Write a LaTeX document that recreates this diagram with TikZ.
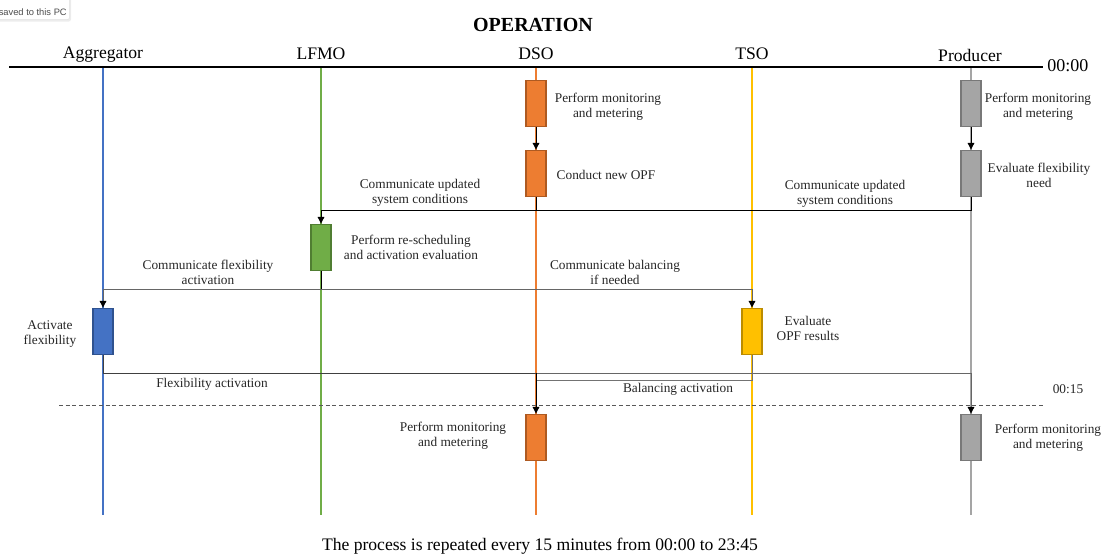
\documentclass[tikz,border=0pt]{standalone}
\usepackage{fontspec}
\setmainfont{Liberation Serif}
\newfontfamily\uifont{Liberation Sans}
\usetikzlibrary{arrows.meta,shadows}
\definecolor{cagg}{HTML}{4472C4}
\definecolor{caggd}{HTML}{2F528F}
\definecolor{clfmo}{HTML}{70AD47}
\definecolor{clfmod}{HTML}{507E32}
\definecolor{cdso}{HTML}{ED7D31}
\definecolor{cdsod}{HTML}{AE5A21}
\definecolor{ctso}{HTML}{FFC000}
\definecolor{ctsod}{HTML}{BC8C00}
\definecolor{cpro}{HTML}{A5A5A5}
\definecolor{cprod}{HTML}{787878}
\begin{document}
\begin{tikzpicture}[x=0.75pt,y=-0.75pt,
  actbox/.style={rectangle,minimum width=15pt,minimum height=35pt,inner sep=0pt,line width=0.9pt},
  aggbox/.style={actbox,fill=cagg,draw=caggd},
  lfmobox/.style={actbox,fill=clfmo,draw=clfmod},
  dsobox/.style={actbox,fill=cdso,draw=cdsod},
  tsobox/.style={actbox,fill=ctso,draw=ctsod},
  probox/.style={actbox,fill=cpro,draw=cprod},
  lbl/.style={font=\fontsize{10}{11.25}\selectfont,align=center,inner sep=0pt,text=black!85},
  head/.style={font=\fontsize{13.2}{15}\selectfont,inner sep=0pt},
  life/.style={line width=1pt},
  conn/.style={line width=0.75pt},
  arr/.style={conn,-{Triangle[length=5pt,width=5pt,color=black]}},
]
\useasboundingbox (0,0) rectangle (1108,556);

% screenshot toast
\begin{scope}
\clip (0,0) rectangle (1108,556);
\node[draw=black!12,fill=white,rounded corners=2pt,drop shadow={opacity=0.15,shadow xshift=1pt,shadow yshift=-1.5pt},
  minimum width=75pt,minimum height=18pt,anchor=south east] (toast) at (70,20) {};
\node[font=\uifont\fontsize{7}{8}\selectfont,text=black!70,anchor=east,inner sep=0pt] (toasttxt) at (67,12) {saved to this PC};
\end{scope}

% title
\node[font=\bfseries\fontsize{15}{17}\selectfont,inner sep=0pt] (title) at (533,25) {OPERATION};

% headers
\node[head] (hagg) at (103,55) {Aggregator};
\node[head] (hlfmo) at (321,54) {LFMO};
\node[head] (hdso) at (536,54) {DSO};
\node[head] (htso) at (752,54) {TSO};
\node[head] (hpro) at (970,55) {Producer};

% lifelines
\coordinate (aggT) at (103,67); \coordinate (aggB) at (103,515);
\coordinate (lfmoT) at (321,67); \coordinate (lfmoB) at (321,515);
\coordinate (dsoT) at (536,67); \coordinate (dsoB) at (536,515);
\coordinate (tsoT) at (752,67); \coordinate (tsoB) at (752,515);
\coordinate (proT) at (971,67); \coordinate (proB) at (971,515);
\draw[life,cagg] (aggT) -- (aggB);
\draw[life,clfmo] (lfmoT) -- (lfmoB);
\draw[life,cdso] (dsoT) -- (dsoB);
\draw[life,ctso] (tsoT) -- (tsoB);
\draw[life,cpro] (proT) -- (proB);

% top time line
\coordinate (tlL) at (9,67); \coordinate (tlR) at (1043,67);
\draw[line width=1.3pt] (tlL) -- (tlR);
\node[head,anchor=west,font=\fontsize{13.5}{15}\selectfont] (t0) at (1047,66) {00:00};

% dashed 00:15 line
\coordinate (dlL) at (59,405); \coordinate (dlR) at (1043,405);
\draw[line width=0.75pt,black!65,dash pattern=on 3pt off 2pt] (dlL) -- (dlR);
\node[lbl] (t15) at (1068,389) {00:15};

% boxes
\node[dsobox] (d1) at (536,103.5) {};
\node[dsobox] (d2) at (536,173.5) {};
\node[probox] (p1) at (971,103.5) {};
\node[probox] (p2) at (971,173.5) {};
\node[lfmobox] (l1) at (321,247.5) {};
\node[aggbox] (a1) at (103,331.5) {};
\node[tsobox] (t1) at (752,331.5) {};
\node[dsobox] (d3) at (536,437.5) {};
\node[probox] (p3) at (971,437.5) {};

% box labels
\node[lbl] (d1l) at (608,106.5) {Perform monitoring\\and metering};
\node[lbl] (d2l) at (606,175) {Conduct new OPF};
\node[lbl] (p1l) at (1038,106.5) {Perform monitoring\\and metering};
\node[lbl] (p2l) at (1039,175.5) {Evaluate flexibility\\need};
\node[lbl] (l1l) at (411,247.5) {Perform re-scheduling\\and activation evaluation};
\node[lbl] (a1l) at (50,334) {Activate\\flexibility};
\node[lbl] (t1l) at (808,328.5) {Evaluate\\OPF results};
\node[lbl] (d3l) at (453,435.5) {Perform monitoring\\and metering};
\node[lbl] (p3l) at (1048,438) {Perform monitoring\\and metering};

% message labels
\node[lbl] (m1) at (420,192.5) {Communicate updated\\system conditions};
\node[lbl] (m2) at (845,194) {Communicate updated\\system conditions};
\node[lbl] (m3) at (208,272) {Communicate flexibility\\activation};
\node[lbl] (m4) at (615,272.5) {Communicate balancing\\if needed};
\node[lbl] (m5) at (212,384) {Flexibility activation};
\node[lbl] (m6) at (678,389) {Balancing activation};

% connectors
\draw[arr] (d1.south) -- (d2.north);
\draw[arr] (p1.south) -- (p2.north);

\coordinate (j1) at (536,211);
\draw[arr] (d2.south) -- (j1) -| (l1.north);
\draw[conn] (p2.south) |- (j1);

\coordinate (j2) at (321,290);
\draw[conn] (l1.south) -- (j2);
\draw[arr,black!60] (j2) -| (a1.north);
\draw[arr,black!60] (j2) -| (t1.north);

\coordinate (j3) at (536,373);
\coordinate (j4) at (536,380);
\draw[conn,black!75] (a1.south) |- (j3);
\draw[arr,black!60] (j3) -| (p3.north);
\draw[conn,black!55] (t1.south) |- (j4);
\draw[arr] (j3) -- (d3.north);

% footer
\node[head] (foot) at (540,546) {The process is repeated every 15 minutes from 00:00 to 23:45};
\end{tikzpicture}
\end{document}
